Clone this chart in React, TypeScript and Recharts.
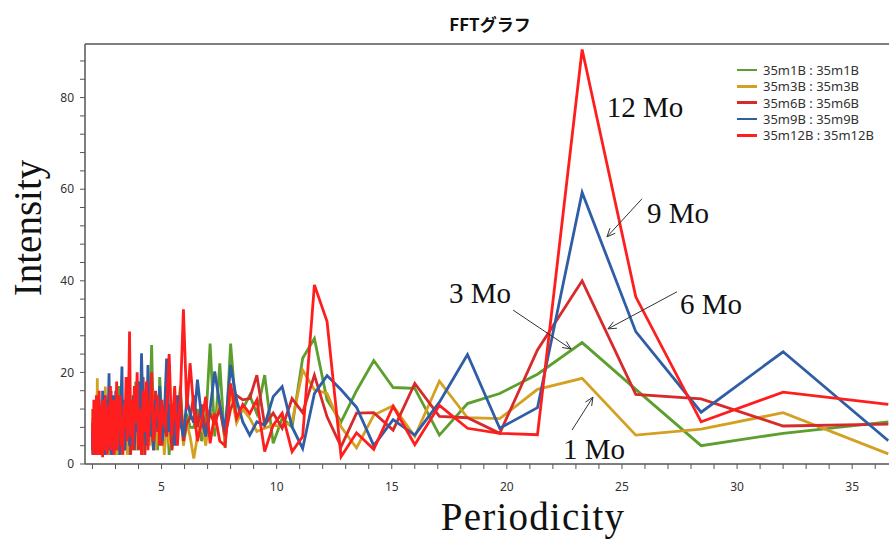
import { LineChart, Line, XAxis, YAxis, ReferenceLine, ReferenceDot } from "recharts"

// periodicity (x) — ascending
const periods = [
  2, 2.02, 2.03, 2.05, 2.06, 2.08, 2.1, 2.12, 2.13, 2.15,
  2.17, 2.19, 2.21, 2.23, 2.25, 2.27, 2.29, 2.31, 2.33, 2.35,
  2.37, 2.39, 2.42, 2.44, 2.46, 2.49, 2.51, 2.53, 2.56, 2.59,
  2.61, 2.64, 2.67, 2.69, 2.72, 2.75, 2.78, 2.81, 2.84, 2.88,
  2.91, 2.94, 2.98, 3.01, 3.05, 3.08, 3.12, 3.16, 3.2, 3.24,
  3.28, 3.32, 3.37, 3.41, 3.46, 3.51, 3.56, 3.61, 3.66, 3.71,
  3.76, 3.82, 3.88, 3.94, 4, 4.06, 4.13, 4.2, 4.27, 4.34,
  4.41, 4.49, 4.57, 4.65, 4.74, 4.83, 4.92, 5.02, 5.12, 5.22,
  5.33, 5.45, 5.57, 5.69, 5.82, 5.95, 6.1, 6.24,
  6.4, 6.56, 6.74, 6.92, 7.11, 7.31, 7.53, 7.76, 8, 8.26,
  8.53, 8.83, 9.14, 9.48, 9.85, 10.24, 10.67, 11.13, 11.64, 12.19,
  12.8, 13.47, 14.22, 15.06, 16, 17.07, 18.29, 19.69, 21.33, 23.27,
  25.6, 28.44, 32, 36.57,
]

const m1B = [
  5, 10, 3, 8, 2, 12, 6, 9, 4, 11,
  3, 7, 13, 2, 9, 5, 14, 4, 8, 2,
  10, 6, 12, 3, 8, 15, 4, 11, 2, 9,
  7, 13, 3, 10, 5, 14, 2, 8, 12, 4,
  9, 3, 15, 6, 11, 2, 10, 17, 5, 12,
  4, 9, 14, 3, 11, 6, 16, 2, 10, 7,
  13, 5, 18, 3, 9, 14, 6, 12, 2, 15,
  8, 11, 26, 7, 13, 3, 19, 9, 5, 14,
  2, 12, 6, 10, 17, 5, 11, 8,
  8, 12, 5, 9, 26.3, 6, 22, 3.5, 26.3, 10,
  12, 15, 11, 19.4, 4.5, 10, 8.1, 23.1, 27.4, 14,
  9.2, 16, 22.6, 16.7, 16.5, 6.3, 13.2, 15.4, 19.6, 26.5,
  16.3, 4, 6.7, 9.2,
]

const m3B = [
  12, 2, 6, 9, 3, 11, 5, 8, 2, 10,
  4, 7, 18.7, 3, 9, 5, 12, 2, 8, 6,
  11, 3, 7, 13, 4, 9, 2, 10, 16.9, 5,
  8, 3, 12, 6, 2, 9, 11, 4, 7, 13,
  3, 8, 5, 10, 2, 12, 6, 9, 4, 14,
  7, 3, 11, 5, 9, 2, 13, 6, 8, 4,
  10, 15, 3, 7, 12, 5, 9, 2, 11, 6,
  13, 4, 8, 16, 3, 10, 6, 12, 2, 9,
  5, 3, 11, 7, 14, 4, 9, 6,
  1.2, 6, 10, 4, 12, 8, 14, 5, 16, 9,
  12, 10, 7.1, 7.8, 8.5, 8.1, 9.2, 20.5, 16.2, 15.4,
  8.1, 3.5, 10.7, 12.7, 6, 18.1, 10.1, 9.9, 16.3, 18.7,
  6.3, 7.6, 11.2, 2.2,
]

const m6B = [
  7, 2, 10, 4, 12, 3, 9, 6, 13, 2,
  11, 5, 8, 3, 14, 7, 10, 2, 12, 4,
  9, 6, 13, 3, 10, 5, 15, 2, 8, 11,
  4, 12, 7, 14, 3, 9, 5, 16, 2, 10,
  6, 13, 3, 11, 8, 15, 4, 10, 2, 12,
  7, 14, 3, 9, 5, 17, 6, 11, 2, 13,
  4, 10, 7, 15, 3, 12, 6, 19, 2, 11,
  5, 14, 9, 3, 16, 7, 12, 4, 10, 6,
  13, 3, 11, 8, 15, 5, 9, 10,
  15, 8, 13, 7, 11, 9, 12, 6, 12, 15,
  14, 14.3, 19.4, 8.5, 11.1, 7.8, 14.3, 11.2, 19.4, 10.3,
  3.8, 11.1, 11.2, 7.4, 17.6, 10.4, 10.1, 6.7, 24.9, 40,
  15.2, 14.2, 8.3, 8.7,
]

const m9B = [
  3, 8, 2, 11, 5, 13, 4, 9, 2, 12,
  6, 14, 3, 10, 7, 15, 2, 11, 5, 9,
  3, 13, 6, 16, 4, 10, 2, 12, 8, 14,
  5, 11, 3, 13, 19.8, 6, 12, 2, 9, 15,
  4, 10, 7, 16, 3, 12, 6, 9, 2, 14,
  21.3, 5, 11, 3, 13, 8, 17, 4, 10, 6,
  15, 3, 12, 7, 18, 5, 24.2, 9, 13, 4,
  21.6, 6, 11, 3, 14, 8, 17, 5, 10, 23,
  7, 12, 4, 15, 9, 6, 14, 11,
  9, 18.4, 10, 6, 12, 20.2, 13, 7.4, 21.6, 14,
  9.2, 6.3, 9.2, 8.5, 14.7, 16.9, 8.1, 3.4, 15.4, 19.3,
  16.2, 12.4, 4, 9.7, 6.3, 13.5, 23.9, 7.8, 12.3, 59.3,
  28.9, 11.3, 24.5, 5.1,
]

const m12B = [
  9, 3, 12, 2, 14, 5, 11, 2, 13, 4,
  15, 3, 9, 2, 12, 6, 16, 3, 10, 2,
  13, 5, 11, 1.5, 14, 4, 9, 3, 15, 6,
  12, 2, 10, 4, 13, 7, 17, 3, 11, 5,
  14, 2, 9, 6, 18, 3, 12, 7, 15, 4,
  10, 2, 13, 8, 19, 5, 12, 28.9, 6, 14,
  3, 17, 9, 20, 4, 12, 2, 16, 7, 18,
  3, 13, 20, 5, 11, 15, 4, 14, 8, 12,
  24, 6, 17, 4, 15, 33.8, 12, 22,
  12, 5, 9, 14.7, 4.5, 11, 5, 4, 17.6, 10,
  13, 11, 14, 2.7, 8.5, 11.1, 2.7, 6, 39.1, 31.1,
  1.6, 6.8, 3.2, 12.6, 4.2, 12.8, 7.8, 6.7, 6.4, 90.5,
  36.5, 9.2, 15.7, 13,
]

const xTicks = [2, 3, 4, 5, 6, 7, 8, 9, 10, 11, 12, 13, 14, 15, 16, 17, 18, 19, 20, 21, 22, 23, 24, 25, 26, 27, 28, 29, 30, 31, 32, 33, 34, 35, 36]
const yTicks = [0, 4, 8, 12, 16, 20, 24, 28, 32, 36, 40, 44, 48, 52, 56, 60, 64, 68, 72, 76, 80, 84, 88]

const seriesList = [
  { key: "m1B", name: "35m1B : 35m1B", color: "#5c9f2e" },
  { key: "m3B", name: "35m3B : 35m3B", color: "#d4a021" },
  { key: "m6B", name: "35m6B : 35m6B", color: "#d82a2a" },
  { key: "m9B", name: "35m9B : 35m9B", color: "#2f5da6" },
  { key: "m12B", name: "35m12B : 35m12B", color: "#ff1e1e" },
]

// annotations: text and arrows (data coordinates)
const notes = [
  { text: "12 Mo", x: 26.0, y: 77.9 },
  { text: "9 Mo", x: 27.43, y: 54.8 },
  { text: "6 Mo", x: 28.87, y: 34.9 },
  { text: "3 Mo", x: 18.83, y: 37.3 },
  { text: "1 Mo", x: 23.79, y: 3.3 },
]
const arrows = [
  { from: [25.87, 57.9], to: [24.35, 49.6] },
  { from: [27.39, 37.6], to: [24.39, 29.5] },
  { from: [20.27, 33.6], to: [22.79, 25.1] },
  { from: [22.83, 7.4], to: [23.74, 14.6] },
]

const data = periods.map((p, i) => ({
  p,
  m1B: m1B[i],
  m3B: m3B[i],
  m6B: m6B[i],
  m9B: m9B[i],
  m12B: m12B[i],
}))

const tickStyle = { fontSize: 12, fill: "#333", fontFamily: "Noto Sans" }

function Arrow(props: any) {
  const { x1, y1, x2, y2 } = props
  const a = Math.atan2(y2 - y1, x2 - x1)
  const L = 9
  const w = 0.42
  const ax = x2 - L * Math.cos(a - w)
  const ay = y2 - L * Math.sin(a - w)
  const bx = x2 - L * Math.cos(a + w)
  const by = y2 - L * Math.sin(a + w)
  return (
    <g stroke="#333" strokeWidth={1} fill="none">
      <line x1={x1} y1={y1} x2={x2} y2={y2} />
      <polyline points={`${ax},${ay} ${x2},${y2} ${bx},${by}`} />
    </g>
  )
}

function NoteText(text: string) {
  return (props: any) => (
    <text
      x={props.cx}
      y={props.cy}
      textAnchor="middle"
      dominantBaseline="central"
      fontFamily="Liberation Serif"
      fontSize={29}
      fill="#111"
    >
      {text}
    </text>
  )
}

export default function App() {
  return (
    <div style={{ position: "absolute", left: 0, top: 0, width: 889, height: 540, background: "#fff", overflow: "hidden" }}>
      <div
        style={{
          position: "absolute", left: 390, top: 11, width: 200, textAlign: "center",
          fontFamily: "Noto Sans CJK JP", fontWeight: 700, fontSize: 17, color: "#111",
        }}
      >
        FFTグラフ
      </div>

      <LineChart width={889} height={540} data={data} margin={{ top: 44, right: 0, bottom: 0, left: 0 }}>
        <XAxis
          dataKey="p"
          type="number"
          domain={[1.675, 36.6]}
          allowDataOverflow
          ticks={xTicks}
          interval={0}
          tickFormatter={(v: number) => (v % 5 === 0 ? String(v) : "")}
          height={76}
          tick={tickStyle}
          tickSize={5}
          tickMargin={13}
          stroke="#555"
          axisLine={{ stroke: "#555", strokeWidth: 1.5 }}
        />
        <YAxis
          type="number"
          domain={[0, 91.7]}
          allowDataOverflow
          ticks={yTicks}
          interval={0}
          tickFormatter={(v: number) => (v % 20 === 0 ? String(v) : "")}
          width={85}
          tick={tickStyle}
          tickSize={5}
          tickMargin={6}
          stroke="#555"
          axisLine={{ stroke: "#555", strokeWidth: 1.5 }}
        />
        <ReferenceLine y={91.7} stroke="#555" strokeWidth={1.5} />
        {seriesList.map((s) => (
          <Line
            key={s.key}
            type="linear"
            dataKey={s.key}
            name={s.name}
            stroke={s.color}
            strokeWidth={2.8}
            dot={false}
            isAnimationActive={false}
          />
        ))}
        {arrows.map((a, i) => (
          <ReferenceLine
            key={"a" + i}
            segment={[{ x: a.from[0], y: a.from[1] }, { x: a.to[0], y: a.to[1] }]}
            shape={Arrow}
          />
        ))}
        {notes.map((n) => (
          <ReferenceDot key={n.text} x={n.x} y={n.y} r={1} shape={NoteText(n.text)} />
        ))}
      </LineChart>

      <div style={{ position: "absolute", left: 737, top: 62 }}>
        {seriesList.map((s) => (
          <div key={s.key} style={{ display: "flex", alignItems: "center", height: 16.3 }}>
            <div style={{ width: 20, height: 2.5, background: s.color, marginRight: 6 }} />
            <span style={{ fontFamily: "Noto Sans", fontSize: 13, color: "#333", lineHeight: "16px" }}>{s.name}</span>
          </div>
        ))}
      </div>

      <div
        style={{
          position: "absolute", left: -72, top: 206, width: 200, height: 44, lineHeight: "44px",
          textAlign: "center", transform: "rotate(-90deg)",
          fontFamily: "Liberation Serif", fontSize: 39, color: "#111",
        }}
      >
        Intensity
      </div>
      <div
        style={{
          position: "absolute", left: 333, top: 495, width: 400, height: 44, lineHeight: "44px",
          textAlign: "center", fontFamily: "Liberation Serif", fontSize: 39, letterSpacing: 1.2, color: "#111",
        }}
      >
        Periodicity
      </div>
    </div>
  )
}
